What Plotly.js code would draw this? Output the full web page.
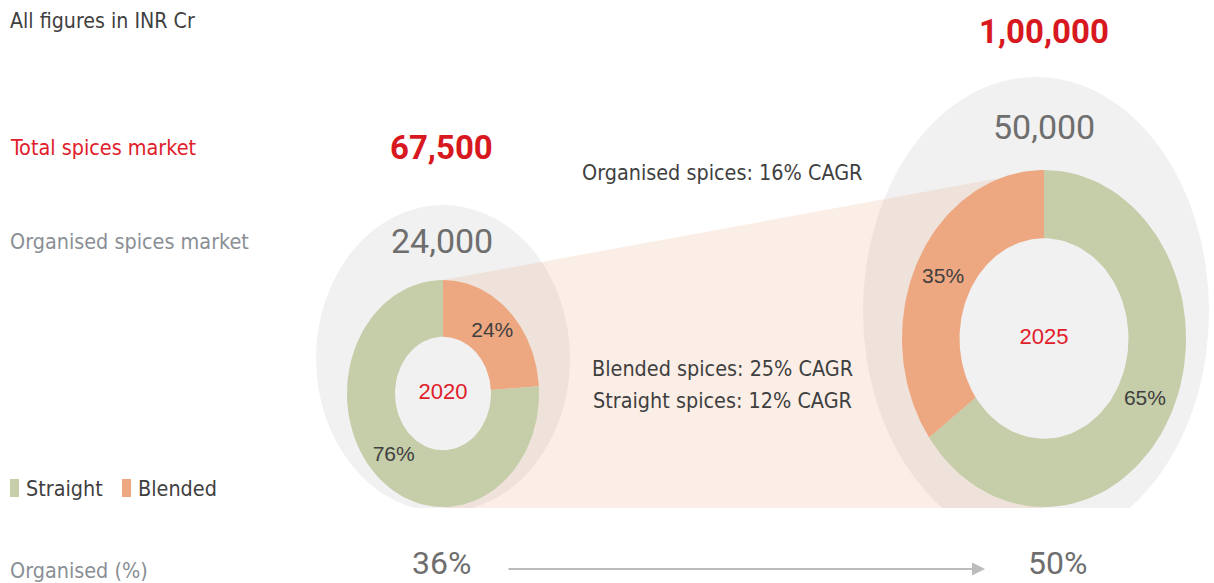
<!DOCTYPE html>
<html>
<head>
<meta charset="utf-8">
<script src="https://cdn.plot.ly/plotly-3.0.1.min.js"></script>
<style>html,body{margin:0;padding:0;background:#fff;}</style>
</head>
<body>
<div id="myDiv" style="width:1214px;height:583px;"></div>
<script>
// values (INR Cr)
var years = ['2020', '2025'];
var segments = ['Straight', 'Blended'];
var totalMarket = [67500, 100000];
var organisedMarket = [24000, 50000];
var straightShare = [76, 65];
var blendedShare = [24, 35];
var organisedPct = [36, 50];
var cagrLines = ['Organised spices: 16% CAGR', 'Blended spices: 25% CAGR', 'Straight spices: 12% CAGR'];

var GREEN = '#c5cda9', ORANGE = '#eda882', RED = '#e0202a', DARK = '#3f3f3f', GREY = '#8a8f95', NUMGREY = '#6e6e6e';
var HALO = '#f1f1f1';
var TXT = 'Liberation Sans Narrow, Arial Narrow, DejaVu Sans Condensed, sans-serif';
var NUM = 'Roboto, DejaVu Sans, sans-serif';
var PLOT_H = 508; // drawing area height in px, the rest is the bottom strip

// where each donut sits, in pixels of the 1214 x 508 drawing area (y down)
var donuts = [
	{cx: 443, cy: 393.5, rx: 96, ry: 113.5, hole: 0.5, order: ['Blended', 'Straight']},
	{cx: 1044, cy: 338.5, rx: 142, ry: 168.5, hole: 0.595, order: ['Straight', 'Blended']}
];
var halos = [
	{x0: 316, x1: 570, y0: 205, y1: 512},
	{x0: 863, x1: 1209, y0: 77, y1: 545}
];

function ringPoint(d, frac, r) {
	var t = 2 * Math.PI * frac;
	return [d.cx + d.rx * r * Math.sin(t), d.cy - d.ry * r * Math.cos(t)];
}

function sector(d, f0, f1) {
	var xs = [], ys = [], n = 90, i, p;
	for (i = 0; i <= n; i++) {
		p = ringPoint(d, f0 + (f1 - f0) * i / n, 1);
		xs.push(p[0]); ys.push(p[1]);
	}
	for (i = n; i >= 0; i--) {
		p = ringPoint(d, f0 + (f1 - f0) * i / n, d.hole);
		xs.push(p[0]); ys.push(p[1]);
	}
	xs.push(xs[0]); ys.push(ys[0]);
	return {x: xs, y: ys};
}

function colorOf(seg) { return seg == 'Straight' ? GREEN : ORANGE; }

var data = [];
var labelX = [], labelY = [], labelT = [];
for (var k = 0; k < years.length; k++) {
	var d = donuts[k];
	var share = {Straight: straightShare[k], Blended: blendedShare[k]};
	var start = 0;
	for (var j = 0; j < d.order.length; j++) {
		var seg = d.order[j];
		var f = share[seg] / 100;
		var s = sector(d, start, start + f);
		data.push({
			x: s.x, y: s.y,
			type: 'scatter', mode: 'lines', fill: 'toself',
			fillcolor: colorOf(seg),
			line: {width: 0, color: colorOf(seg)},
			name: seg, showlegend: false,
			hoverinfo: 'text', text: years[k] + ' ' + seg + ': ' + share[seg] + '%'
		});
		var mid = ringPoint(d, start + f / 2, (1 + d.hole) / 2);
		labelX.push(mid[0]); labelY.push(mid[1]); labelT.push(share[seg] + '%');
		start += f;
	}
}

data.push({
	x: labelX, y: labelY, text: labelT,
	type: 'scatter', mode: 'text', showlegend: false, hoverinfo: 'skip',
	textfont: {family: 'Liberation Sans, Arial, sans-serif', size: 21, color: DARK}
});
data.push({
	x: donuts.map(function(d) { return d.cx; }),
	y: donuts.map(function(d) { return d.cy; }),
	text: years,
	type: 'scatter', mode: 'text', showlegend: false, hoverinfo: 'skip',
	textfont: {family: 'Liberation Sans, Arial, sans-serif', size: 22, color: RED}
});

var shapes = [];
halos.forEach(function(h) {
	shapes.push({type: 'circle', xref: 'x', yref: 'y', x0: h.x0, x1: h.x1, y0: h.y0, y1: h.y1,
		fillcolor: HALO, line: {width: 0}, layer: 'below'});
});
// band joining the two donuts
var a = donuts[0], b = donuts[1];
shapes.push({type: 'path', xref: 'x', yref: 'y', layer: 'below',
	path: 'M' + a.cx + ',' + (a.cy - a.ry) + ' L' + b.cx + ',' + (b.cy - b.ry) +
		' L' + b.cx + ',' + (b.cy + b.ry + 1) + ' L' + a.cx + ',' + (a.cy + a.ry + 1) + ' Z',
	fillcolor: 'rgba(237,168,130,0.2)', line: {width: 0}});
// holes stay plain grey
donuts.forEach(function(d) {
	shapes.push({type: 'circle', xref: 'x', yref: 'y', layer: 'below',
		x0: d.cx - d.rx * d.hole, x1: d.cx + d.rx * d.hole,
		y0: d.cy - d.ry * d.hole, y1: d.cy + d.ry * d.hole,
		fillcolor: HALO, line: {width: 0}});
});
// legend swatches
var swatchX = [10, 122];
segments.forEach(function(seg, i) {
	shapes.push({type: 'rect', xref: 'x', yref: 'y', x0: swatchX[i], x1: swatchX[i] + 9, y0: 479, y1: 497,
		fillcolor: colorOf(seg), line: {width: 0}});
});

function inr(v) { return v.toLocaleString('en-IN'); }

function note(x, y, text, size, color, family, anchor) {
	return {x: x, y: y, xref: 'x', yref: 'y', text: text, showarrow: false,
		xanchor: anchor || 'center', yanchor: 'middle',
		font: {size: size, color: color, family: family}};
}
// for the strip below the drawing area
function low(x, y, text, size, color, family, anchor) {
	var n = note(x, (PLOT_H - y) / PLOT_H, text, size, color, family, anchor);
	n.yref = 'paper';
	return n;
}

var annotations = [
	note(8, 20, 'All figures in INR Cr', 21.2, DARK, TXT, 'left'),
	note(8, 147, 'Total spices market', 21.4, RED, TXT, 'left'),
	note(8, 241, 'Organised spices market', 21.4, GREY, TXT, 'left'),
	note(441, 147, '<b>' + inr(totalMarket[0]) + '</b>', 33, '#d7191f', NUM),
	note(1044, 31, '<b>' + inr(totalMarket[1]) + '</b>', 33, '#d7191f', NUM),
	note(442, 241, inr(organisedMarket[0]), 34, NUMGREY, NUM),
	note(1044, 127, inr(organisedMarket[1]), 34, NUMGREY, NUM),
	note(722, 172, cagrLines[0], 21.4, DARK, TXT),
	note(722, 368, cagrLines[1], 21.4, DARK, TXT),
	note(722, 400, cagrLines[2], 21.4, DARK, TXT),
	note(24, 488, segments[0], 21.4, DARK, TXT, 'left'),
	note(136, 488, segments[1], 21.4, DARK, TXT, 'left'),
	low(8, 570, 'Organised (%)', 21.4, GREY, TXT, 'left'),
	low(441, 563, organisedPct[0] + '%', 32, NUMGREY, NUM),
	low(1057, 563, organisedPct[1] + '%', 32, NUMGREY, NUM),
	{x: 985, y: (PLOT_H - 569) / PLOT_H, xref: 'x', yref: 'paper', ax: 507 - 985, ay: 0,
		text: '', showarrow: true, arrowhead: 2, arrowsize: 1.3, arrowwidth: 2, arrowcolor: '#bcbcbc'}
];

var layout = {
	width: 1214, height: 583,
	margin: {l: 0, r: 0, t: 0, b: 583 - PLOT_H},
	paper_bgcolor: '#ffffff', plot_bgcolor: '#ffffff',
	xaxis: {range: [0, 1214], visible: false, fixedrange: true},
	yaxis: {range: [PLOT_H, 0], visible: false, fixedrange: true},
	showlegend: false,
	shapes: shapes,
	annotations: annotations
};

Plotly.newPlot('myDiv', data, layout, {displayModeBar: false, staticPlot: true});
</script>
</body>
</html>
